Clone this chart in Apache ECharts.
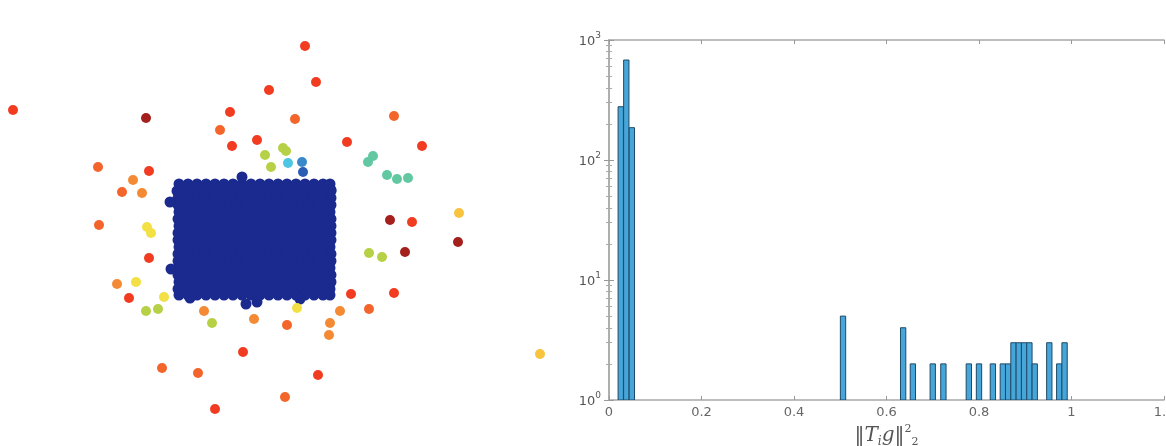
<!DOCTYPE html>
<html>
<head>
<meta charset="utf-8">
<script src="https://cdn.jsdelivr.net/npm/echarts@6/dist/echarts.min.js"></script>
<style>
html, body { margin: 0; padding: 0; background: #fff; }
#main { width: 1166px; height: 446px; }
</style>
</head>
<body>
<div id="main"></div>
<script>
// colour levels of the graph nodes (jet-like, low -> high)
var levelColors = ['#1b2a8e', '#2a5cb4', '#3a88cc', '#4cc6e2', '#62c8a2', '#b6d146',
                   '#f2e044', '#f8c43e', '#f58a35', '#f4652c', '#f23c22', '#a3201c'];

// scattered nodes: [x, y, level]
var outliers = [
    [13, 110, 10], [146, 118, 11], [269, 90, 10], [230, 112, 10], [295, 119, 9],
    [220, 130, 9], [257, 140, 10], [232, 146, 10], [305, 46, 10], [316, 82, 10],
    [394, 116, 9], [347, 142, 10], [422, 146, 10], [265, 155, 5], [283, 148, 5],
    [286, 151, 5], [271, 167, 5], [288, 163, 3], [302, 162, 2], [303, 172, 1],
    [368, 162, 4], [373, 156, 4], [387, 175, 4], [397, 179, 4], [408, 178, 4],
    [98, 167, 9], [149, 171, 10], [133, 180, 8], [122, 192, 9], [142, 193, 8],
    [99, 225, 9], [147, 227, 6], [151, 233, 6], [149, 258, 10], [117, 284, 8],
    [136, 282, 6], [129, 298, 10], [164, 297, 6], [146, 311, 5], [158, 309, 5],
    [204, 311, 8], [212, 323, 5], [254, 319, 8], [287, 325, 9], [297, 308, 6],
    [243, 352, 10], [162, 368, 9], [198, 373, 9], [285, 397, 9], [215, 409, 10],
    [459, 213, 7], [390, 220, 11], [412, 222, 10], [458, 242, 11], [405, 252, 11],
    [369, 253, 5], [382, 257, 5], [351, 294, 10], [394, 293, 10], [340, 311, 8],
    [369, 309, 9], [330, 323, 8], [329, 335, 8], [540, 354, 7], [318, 375, 10]
];

// dense cluster of nodes, row by row: [y, [x positions]]
var clusterRows = [
    [184, [179, 188, 197, 206, 215, 224, 233, 242, 251, 260, 269, 278, 287, 296, 305, 314, 323, 330]],
    [191, [177, 183, 192, 201, 210, 219, 228, 237, 246, 255, 264, 273, 282, 291, 300, 309, 318, 327, 331]],
    [198, [178, 187, 196, 205, 214, 223, 232, 241, 250, 259, 268, 277, 286, 295, 304, 313, 322, 331]],
    [205, [178, 183, 192, 201, 210, 219, 228, 237, 246, 255, 264, 273, 282, 291, 300, 309, 318, 327, 331]],
    [212, [179, 187, 196, 205, 214, 223, 232, 241, 250, 259, 268, 277, 286, 295, 304, 313, 322, 330]],
    [219, [178, 183, 192, 201, 210, 219, 228, 237, 246, 255, 264, 273, 282, 291, 300, 309, 318, 327, 331]],
    [226, [179, 187, 196, 205, 214, 223, 232, 241, 250, 259, 268, 277, 286, 295, 304, 313, 322, 331]],
    [233, [178, 183, 192, 201, 210, 219, 228, 237, 246, 255, 264, 273, 282, 291, 300, 309, 318, 327, 331]],
    [240, [178, 187, 196, 205, 214, 223, 232, 241, 250, 259, 268, 277, 286, 295, 304, 313, 322, 331]],
    [247, [179, 183, 192, 201, 210, 219, 228, 237, 246, 255, 264, 273, 282, 291, 300, 309, 318, 327, 330]],
    [254, [178, 187, 196, 205, 214, 223, 232, 241, 250, 259, 268, 277, 286, 295, 304, 313, 322, 331]],
    [261, [178, 183, 192, 201, 210, 219, 228, 237, 246, 255, 264, 273, 282, 291, 300, 309, 318, 327, 331]],
    [268, [179, 187, 196, 205, 214, 223, 232, 241, 250, 259, 268, 277, 286, 295, 304, 313, 322, 330]],
    [275, [178, 183, 192, 201, 210, 219, 228, 237, 246, 255, 264, 273, 282, 291, 300, 309, 318, 327, 331]],
    [282, [179, 187, 196, 205, 214, 223, 232, 241, 250, 259, 268, 277, 286, 295, 304, 313, 322, 331]],
    [289, [178, 183, 192, 201, 210, 219, 228, 237, 246, 255, 264, 273, 282, 291, 300, 309, 318, 327, 330]],
    [295, [179, 188, 197, 206, 215, 224, 233, 242, 251, 260, 269, 278, 287, 296, 305, 314, 323, 330]]
];
// nodes sticking out of the cluster edge
var clusterEdge = [[242, 177], [170, 202], [171, 269], [246, 304], [257, 302], [331, 190], [190, 298], [300, 299]];

// histogram of ||T_i g||^2 : bin centres and counts
var binCenters = [0.0254, 0.0374, 0.0494, 0.506, 0.636, 0.657, 0.700, 0.723, 0.778, 0.800, 0.830,
                  0.8515, 0.863, 0.8745, 0.886, 0.8975, 0.909, 0.9205, 0.952, 0.9735, 0.985];
var binCounts = [278, 681, 186, 5, 4, 2, 2, 2, 2, 2, 2, 2, 2, 3, 3, 3, 3, 2, 3, 2, 3];
var binWidth = 0.0115;

var clusterData = [];
clusterRows.forEach(function (row) {
    row[1].forEach(function (x) { clusterData.push([x, row[0]]); });
});
clusterEdge.forEach(function (p) { clusterData.push(p); });

var histData = binCenters.map(function (c, i) { return [c, binCounts[i]]; });

var chart = echarts.init(document.getElementById('main'));

var axisGray = '#a8a8a8';
var labelGray = '#555';
var serif = 'DejaVu Serif';

var option = {
    animation: false,
    backgroundColor: '#fff',
    grid: [
        { left: 0, top: 0, width: 560, height: 446, outerBoundsMode: 'none' },
        { left: 609, top: 40, width: 555, bottom: 46, outerBoundsMode: 'none' }
    ],
    xAxis: [
        { gridIndex: 0, type: 'value', min: 0, max: 560, show: false },
        {
            gridIndex: 1, type: 'value', min: 0, max: 1.2, interval: 0.2,
            axisLine: { lineStyle: { color: axisGray, width: 1.5 } },
            axisTick: { inside: true, length: 4, lineStyle: { color: '#999' } },
            axisLabel: { color: '#666', fontSize: 13, fontFamily: 'DejaVu Sans', margin: 6 },
            splitLine: { show: false },
            name: '{n|‖}{t|T}{i|i}{g|g}{n|‖}{u|2}{d|2}',
            nameLocation: 'middle',
            nameGap: 21,
            nameTextStyle: {
                color: labelGray,
                rich: {
                    n: { fontSize: 20, fontFamily: serif, color: labelGray, lineHeight: 24, verticalAlign: 'middle' },
                    t: { fontSize: 20, fontFamily: serif, fontStyle: 'italic', color: labelGray, lineHeight: 24, verticalAlign: 'middle' },
                    i: { fontSize: 12, fontFamily: serif, fontStyle: 'italic', color: labelGray, verticalAlign: 'bottom', lineHeight: 12 },
                    g: { fontSize: 20, fontFamily: serif, fontStyle: 'italic', color: labelGray, lineHeight: 24, verticalAlign: 'middle' },
                    u: { fontSize: 11, fontFamily: serif, color: labelGray, verticalAlign: 'top', lineHeight: 11 },
                    d: { fontSize: 11, fontFamily: serif, color: labelGray, verticalAlign: 'bottom', lineHeight: 11 }
                }
            }
        },
        {
            gridIndex: 1, type: 'value', min: 0, max: 1.2, interval: 0.2, position: 'top',
            axisLine: { lineStyle: { color: axisGray, width: 1.5 } },
            axisTick: { inside: true, length: 4, lineStyle: { color: '#999' } },
            axisLabel: { show: false },
            splitLine: { show: false }
        }
    ],
    yAxis: [
        { gridIndex: 0, type: 'value', min: 0, max: 446, inverse: true, show: false },
        {
            gridIndex: 1, type: 'log', logBase: 10, min: 1, max: 1000,
            axisLine: { show: true, lineStyle: { color: axisGray, width: 1.5 } },
            axisTick: { show: true, inside: true, length: 5, lineStyle: { color: '#999' } },
            minorTick: { show: true, splitNumber: 9, length: 3, lineStyle: { color: '#aaa' } },
            axisLabel: {
                margin: 8,
                formatter: function (v) {
                    return '{b|10}{e|' + Math.round(Math.log10(v)) + '}';
                },
                rich: {
                    b: { fontSize: 13, fontFamily: 'DejaVu Sans', color: labelGray, verticalAlign: 'bottom', lineHeight: 17 },
                    e: { fontSize: 9, fontFamily: 'DejaVu Sans', color: labelGray, verticalAlign: 'top', lineHeight: 10 }
                }
            },
            splitLine: { show: false }
        },
        {
            gridIndex: 1, type: 'log', logBase: 10, min: 1, max: 1000, position: 'right',
            axisLine: { show: true, lineStyle: { color: axisGray, width: 1.5 } },
            axisTick: { show: true, inside: true, length: 5, lineStyle: { color: '#999' } },
            minorTick: { show: true, splitNumber: 9, length: 3, lineStyle: { color: '#aaa' } },
            axisLabel: { show: false },
            splitLine: { show: false }
        }
    ],
    series: [
        {
            type: 'scatter',
            xAxisIndex: 0, yAxisIndex: 0,
            data: clusterData,
            symbolSize: 11,
            itemStyle: { color: levelColors[0], opacity: 1 },
            silent: true
        },
        {
            type: 'scatter',
            xAxisIndex: 0, yAxisIndex: 0,
            data: outliers,
            symbolSize: 10,
            itemStyle: {
                opacity: 1,
                color: function (p) { return levelColors[p.value[2]]; }
            },
            silent: true
        },
        {
            type: 'custom',
            xAxisIndex: 1, yAxisIndex: 1,
            data: histData,
            clip: true,
            renderItem: function (params, api) {
                var c = api.value(0);
                var top = api.coord([c - binWidth / 2, api.value(1)]);
                var base = api.coord([c + binWidth / 2, 1]);
                return {
                    type: 'rect',
                    shape: { x: top[0], y: top[1], width: base[0] - top[0], height: base[1] - top[1] },
                    style: { fill: '#47a6d9', stroke: '#1e4a68', lineWidth: 1 }
                };
            }
        }
    ]
};

chart.setOption(option);
</script>
</body>
</html>
